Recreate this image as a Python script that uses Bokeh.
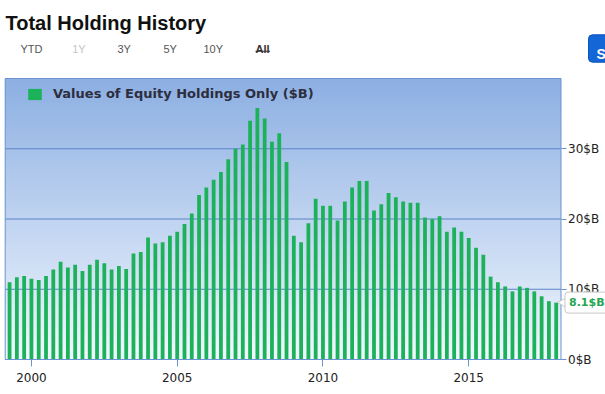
import math
from bokeh.plotting import figure
from bokeh.models import (Range1d, FixedTicker, PrintfTickFormatter, Legend,
                          LegendItem, Label, ColumnDataSource, BoxAnnotation)
from bokeh.embed import file_html
from bokeh.resources import INLINE

# ---------------- data ----------------
years = list(range(1999, 2018))
quarters = [f"{y}Q{q}" for y in years for q in range(1, 5)]
holdings = [
    11.0, 11.7, 11.9, 11.5, 11.3, 11.9, 12.8, 13.9,   # 1999-2000
    13.1, 13.5, 12.6, 13.5, 14.2, 13.7, 12.8, 13.3,   # 2001-2002
    12.9, 15.1, 15.3, 17.35, 16.5, 16.7, 17.6, 18.2,  # 2003-2004
    19.3, 20.8, 23.4, 24.5, 25.6, 26.7, 28.5, 30.0,   # 2005-2006
    30.6, 34.0, 35.8, 34.3, 31.0, 32.2, 28.1, 17.6,   # 2007-2008
    16.7, 19.4, 22.9, 21.9, 21.9, 19.8, 22.5, 24.5,   # 2009-2010
    25.4, 25.4, 21.2, 22.1, 23.7, 23.1, 22.5, 22.3,   # 2011-2012
    22.3, 20.2, 20.0, 20.4, 18.2, 18.8, 18.2, 17.3,   # 2013-2014
    15.9, 14.9, 11.8, 11.0, 10.4, 9.7, 10.4, 10.2,    # 2015-2016
    9.7, 9.0, 8.3, 8.1,                               # 2017
]
tick_years = [2000, 2005, 2010, 2015]
value_ticks = [0, 10, 20, 30]
series_name = "Values of Equity Holdings Only ($B)"
latest_label = "8.1$B"
chart_title = "Total Holding History"
buttons = ["YTD", "1Y", "3Y", "5Y", "10Y", "All"]

# ---------------- layout / styles ----------------
W, H = 605, 394
FL, FR, FT, FB = 4.7, 560.5, 78, 359      # chart box on the canvas (px)
X0, X1 = 1999.10, 2018.165                # chart box in data units
Y0, Y1 = 0, 40
ppx = (FR - FL) / (X1 - X0)
ppy = (FB - FT) / (Y1 - Y0)
GREEN = "#1CB25A"
BLUE_LINE = "#6A93D0"
GRID = "#5B86C8"

xpos = [int(q[:4]) + int(q[-1]) * 0.25 for q in quarters]
src = ColumnDataSource(dict(x=xpos, v=holdings, q=quarters))

p = figure(width=W, height=H,
           x_range=Range1d(X0 - FL / ppx, X1 + (W - FR) / ppx),
           y_range=Range1d(Y0 - (H - FB) / ppy, Y1 + FT / ppy),
           output_backend="svg", toolbar_location=None,
           x_axis_location="below", y_axis_location="right", min_border=0)
p.background_fill_color = "white"
p.border_fill_color = "white"
p.outline_line_color = None
p.grid.visible = False

# vertical gradient background of the chart box
n = 80
top_c = (140, 175, 226)
bot_c = (242, 247, 254)
bg_b, bg_t, bg_c = [], [], []
for i in range(n):
    f = (i + 0.5) / n
    c = tuple(int(round(bot_c[k] + (top_c[k] - bot_c[k]) * f)) for k in range(3))
    bg_b.append(Y0 + (Y1 - Y0) * i / n)
    bg_t.append(min(Y1, Y0 + (Y1 - Y0) * (i + 1.8) / n))
    bg_c.append("#%02x%02x%02x" % c)
bg = p.quad(left=X0, right=X1, bottom=bg_b, top=bg_t, fill_color=bg_c, line_color=None)
bg.level = "image"

# horizontal grid lines inside the chart box
gy = value_ticks[1:]
p.segment(x0=[X0] * len(gy), x1=[X1] * len(gy), y0=gy, y1=gy,
          line_color=GRID, line_width=1)

bars = p.vbar(x="x", top="v", width=0.13, source=src, fill_color=GREEN, line_color=None)

# chart border
p.quad(left=[X0], right=[X1], bottom=[Y0], top=[Y1], fill_color=None,
       line_color=BLUE_LINE, line_width=1)

xa = p.xaxis[0]
xa.fixed_location = Y0
xa.bounds = (X0, X1)
xa.ticker = FixedTicker(ticks=tick_years)
xa.axis_line_color = BLUE_LINE
xa.major_tick_line_color = BLUE_LINE
xa.major_tick_out = 7
xa.major_tick_in = 0
xa.minor_tick_line_color = None
xa.major_label_standoff = 6
xa.major_label_text_font = "DejaVu Sans"
xa.major_label_text_font_size = "12px"
xa.major_label_text_color = "#222222"

ya = p.yaxis[0]
ya.fixed_location = X1
ya.bounds = (Y0, Y1)
ya.ticker = FixedTicker(ticks=value_ticks)
ya.formatter = PrintfTickFormatter(format="%d$B")
ya.axis_line_color = None
ya.major_tick_line_color = BLUE_LINE
ya.major_tick_out = 5
ya.major_tick_in = 0
ya.minor_tick_line_color = None
ya.major_label_standoff = 2
ya.major_label_text_font = "DejaVu Sans"
ya.major_label_text_font_size = "12px"
ya.major_label_text_color = "#222222"

legend = Legend(items=[LegendItem(label=series_name, renderers=[bars])],
                location=(26, H - 101), padding=0, margin=0, spacing=0,
                glyph_width=17, glyph_height=14, label_height=14, label_standoff=10,
                border_line_color=None, background_fill_alpha=0,
                label_text_font="DejaVu Sans", label_text_font_style="bold",
                label_text_font_size="13px", label_text_color="#2d2d3d")
p.add_layout(legend)

# callout with the latest value
p.scatter(x=[X1 + 2.5 / ppx], y=[holdings[-1]], marker="triangle", angle=math.pi / 2,
          size=10, fill_color="white", line_color="#c8c8c8")
callout = Label(x=X1, y=holdings[-1], x_offset=4, text=latest_label,
                text_baseline="middle", text_align="left",
                text_font="DejaVu Sans", text_font_style="bold",
                text_font_size="11px", text_color="#27a552",
                background_fill_color="white", border_line_color="#c8c8c8",
                padding=4, border_radius=3)
p.add_layout(callout)

# header (screen units: canvas x, height measured up from the bottom)
p.add_layout(Label(x=5, y=H - 22.7, x_units="screen", y_units="screen",
                   text=chart_title, text_font="Liberation Sans",
                   text_font_style="bold", text_font_size="20px",
                   text_baseline="alphabetic", text_color="#111111"))
bpx = [20, 71.7, 117, 163, 203, 255]
bcol = ["#555555", "#c4c4c4", "#555555", "#555555", "#555555", "#333333"]
for lbl, bxp, col in zip(buttons, bpx, bcol):
    p.add_layout(Label(x=bxp, y=H - 48.7, x_units="screen", y_units="screen",
                       text=lbl, text_font="Liberation Sans",
                       text_font_style="bold" if lbl == "All" else "normal",
                       text_font_size="11px", text_baseline="alphabetic",
                       text_color=col))
p.add_layout(BoxAnnotation(left=255, right=269.5, bottom=H - 51.3, top=H - 50.3,
                           left_units="screen", right_units="screen",
                           bottom_units="screen", top_units="screen",
                           fill_color="#333333", fill_alpha=1.0, line_color=None))
p.add_layout(BoxAnnotation(left=588, right=614, bottom=H - 61.7, top=H - 34.3,
                           left_units="screen", right_units="screen",
                           bottom_units="screen", top_units="screen",
                           fill_color="#1466d6", fill_alpha=1.0,
                           line_color="#0b55b8", line_alpha=1.0, border_radius=4))
p.add_layout(Label(x=596, y=H - 53.3, x_units="screen", y_units="screen", text="S",
                   text_font="Liberation Sans", text_font_style="bold",
                   text_font_size="14px", text_baseline="alphabetic",
                   text_color="white"))

open("out.html", "w").write(file_html(p, INLINE))
